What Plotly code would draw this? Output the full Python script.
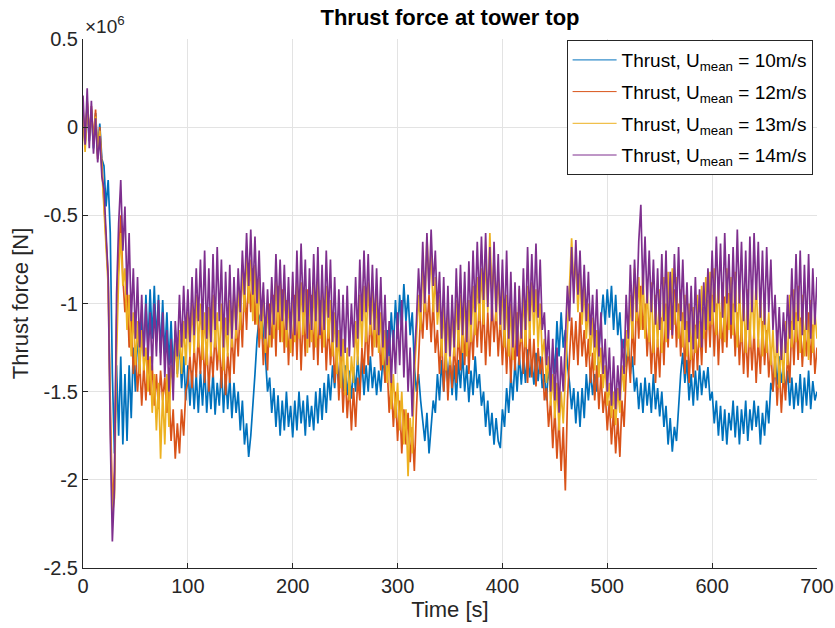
import numpy as np
import plotly.graph_objects as go

# Sample times [s], 2 s spacing
time_s = np.arange(0, 702, 2)

# Thrust force at tower top, in units of 1e6 N
thrust_10 = [
    0.05, -0.10, 0.12, -0.08, 0.10, -0.12, 0.08, -0.15, 0.02, -0.18,
    -0.22, -0.45, -0.30, -0.60, -1.40, -1.85, -1.35, -1.75, -1.30, -1.80,
    -1.40, -1.78, -1.35, -1.65, -1.25, -1.50, -1.15, -1.40, -1.05, -1.30,
    -0.95, -1.25, -0.92, -1.20, -0.90, -1.22, -0.95, -1.28, -0.98, -1.30,
    -1.05, -1.35, -1.10, -1.38, -1.15, -1.40, -1.20, -1.48, -1.30, -1.55,
    -1.35, -1.58, -1.38, -1.60, -1.40, -1.62, -1.38, -1.58, -1.36, -1.62,
    -1.42, -1.60, -1.38, -1.63, -1.45, -1.58, -1.36, -1.62, -1.40, -1.60,
    -1.42, -1.65, -1.45, -1.62, -1.50, -1.72, -1.55, -1.80, -1.68, -1.87,
    -1.75, -1.60, -1.40, -1.20, -1.08, -1.05, -1.15, -1.30, -1.50, -1.42,
    -1.62, -1.48, -1.70, -1.52, -1.75, -1.55, -1.72, -1.50, -1.70, -1.58,
    -1.76, -1.55, -1.72, -1.50, -1.68, -1.55, -1.75, -1.52, -1.70, -1.58,
    -1.72, -1.50, -1.68, -1.48, -1.66, -1.45, -1.62, -1.40, -1.55, -1.35,
    -1.48, -1.30, -1.45, -1.32, -1.50, -1.35, -1.52, -1.38, -1.54, -1.36,
    -1.50, -1.30, -1.48, -1.32, -1.52, -1.35, -1.50, -1.30, -1.48, -1.36,
    -1.52, -1.38, -1.50, -1.30, -1.42, -1.15, -1.30, -1.05, -1.25, -0.98,
    -1.20, -0.95, -1.15, -0.89, -1.10, -0.95, -1.18, -1.05, -1.35, -1.50,
    -1.40, -1.55, -1.65, -1.78, -1.62, -1.85, -1.70, -1.55, -1.62, -1.40,
    -1.55, -1.32, -1.50, -1.28, -1.45, -1.30, -1.52, -1.35, -1.55, -1.32,
    -1.48, -1.28, -1.50, -1.35, -1.56, -1.38, -1.52, -1.30, -1.48, -1.40,
    -1.58, -1.50, -1.70, -1.55, -1.75, -1.62, -1.80, -1.65, -1.78, -1.82,
    -1.60, -1.70, -1.48, -1.62, -1.40, -1.55, -1.32, -1.50, -1.28, -1.46,
    -1.30, -1.45, -1.26, -1.42, -1.32, -1.46, -1.28, -1.44, -1.30, -1.48,
    -1.40, -1.55, -1.35, -1.50, -1.25, -1.40, -1.10, -1.30, -1.05, -1.25,
    -1.15, -1.35, -1.45, -1.60, -1.48, -1.68, -1.50, -1.70, -1.48, -1.65,
    -1.40, -1.55, -1.38, -1.52, -1.40, -1.50, -1.25, -1.10, -0.95, -1.12,
    -0.92, -1.08, -0.90, -1.15, -0.95, -1.18, -1.05, -1.30, -1.20, -1.36,
    -1.22, -1.40, -1.30, -1.50, -1.42, -1.60, -1.45, -1.62, -1.42, -1.58,
    -1.45, -1.62, -1.40, -1.60, -1.48, -1.64, -1.50, -1.70, -1.58, -1.80,
    -1.65, -1.84, -1.70, -1.78, -1.55, -1.40, -1.28, -1.45, -1.32, -1.55,
    -1.40, -1.58, -1.38, -1.55, -1.35, -1.52, -1.38, -1.48, -1.36, -1.55,
    -1.50, -1.68, -1.55, -1.75, -1.58, -1.78, -1.60, -1.80, -1.62, -1.72,
    -1.55, -1.76, -1.58, -1.80, -1.60, -1.74, -1.55, -1.78, -1.60, -1.72,
    -1.55, -1.70, -1.58, -1.80, -1.62, -1.75, -1.55, -1.68, -1.45, -1.50,
    -1.32, -1.46, -1.30, -1.45, -1.36, -1.50, -1.38, -1.58, -1.42, -1.60,
    -1.45, -1.58, -1.40, -1.62, -1.42, -1.58, -1.38, -1.60, -1.44, -1.55,
    -1.50,
]

thrust_12 = [
    0.10, -0.12, 0.15, -0.05, 0.12, -0.08, 0.10, -0.18, 0.00, -0.22,
    -0.42, -0.70, -0.85, -1.55, -2.15, -1.95, -1.10, -0.75, -0.50, -0.85,
    -1.05, -0.90, -1.25, -1.05, -1.40, -1.25, -1.50, -1.32, -1.58, -1.35,
    -1.55, -1.30, -1.52, -1.35, -1.58, -1.40, -1.60, -1.38, -1.55, -1.42,
    -1.62, -1.50, -1.78, -1.60, -1.88, -1.68, -1.85, -1.60, -1.75, -1.50,
    -1.45, -1.30, -1.48, -1.25, -1.42, -1.18, -1.40, -1.15, -1.45, -1.22,
    -1.50, -1.25, -1.42, -1.15, -1.38, -1.20, -1.48, -1.22, -1.52, -1.28,
    -1.45, -1.15, -1.40, -1.10, -1.30, -1.00, -1.25, -0.88, -1.15, -0.82,
    -1.05, -0.80, -1.12, -0.90, -1.25, -1.05, -1.35, -1.10, -1.38, -1.00,
    -1.25, -0.95, -1.30, -0.90, -1.22, -0.92, -1.28, -0.98, -1.35, -1.05,
    -1.30, -0.95, -1.32, -1.00, -1.38, -1.05, -1.30, -0.92, -1.25, -0.95,
    -1.32, -1.00, -1.35, -0.98, -1.28, -1.02, -1.38, -1.10, -1.35, -1.15,
    -1.45, -1.25, -1.55, -1.30, -1.62, -1.38, -1.65, -1.45, -1.72, -1.48,
    -1.70, -1.42, -1.55, -1.25, -1.40, -1.10, -1.35, -1.05, -1.30, -1.00,
    -1.25, -1.12, -1.38, -1.20, -1.45, -1.35, -1.62, -1.45, -1.70, -1.50,
    -1.78, -1.55, -1.85, -1.60, -1.80, -1.62, -1.90, -1.70, -1.95, -1.60,
    -1.30, -1.05, -1.20, -0.92, -1.15, -0.95, -1.22, -0.98, -1.28, -1.15,
    -1.40, -1.18, -1.50, -1.25, -1.55, -1.30, -1.48, -1.22, -1.45, -1.15,
    -1.38, -1.08, -1.35, -1.05, -1.40, -1.12, -1.32, -1.02, -1.25, -0.98,
    -1.28, -1.00, -1.35, -1.05, -1.30, -0.98, -1.22, -1.02, -1.30, -1.08,
    -1.35, -1.10, -1.40, -1.12, -1.45, -1.15, -1.38, -1.05, -1.35, -1.10,
    -1.40, -1.12, -1.45, -1.15, -1.42, -1.20, -1.47, -1.25, -1.40, -1.30,
    -1.55, -1.48, -1.70, -1.55, -1.82, -1.60, -1.88, -1.65, -1.95, -1.70,
    -2.06, -1.55, -1.30, -1.08, -1.32, -1.10, -1.35, -1.05, -1.30, -1.15,
    -1.36, -1.20, -1.45, -1.28, -1.55, -1.35, -1.60, -1.40, -1.62, -1.50,
    -1.72, -1.55, -1.80, -1.60, -1.85, -1.65, -1.87, -1.55, -1.70, -1.40,
    -1.25, -1.45, -1.10, -1.35, -0.95, -1.20, -0.90, -1.15, -1.00, -1.30,
    -1.10, -1.40, -1.15, -1.45, -1.20, -1.42, -1.08, -1.35, -1.00, -1.25,
    -0.95, -1.20, -0.92, -1.25, -1.00, -1.30, -1.05, -1.40, -1.10, -1.45,
    -1.20, -1.42, -1.12, -1.38, -1.10, -1.35, -1.02, -1.28, -0.98, -1.25,
    -0.95, -1.30, -1.00, -1.35, -1.05, -1.28, -0.96, -1.25, -0.94, -1.20,
    -1.00, -1.30, -1.05, -1.35, -1.10, -1.40, -1.15, -1.42, -1.12, -1.38,
    -1.15, -1.45, -1.20, -1.40, -1.10, -1.35, -1.15, -1.42, -1.25, -1.50,
    -1.30, -1.58, -1.35, -1.62, -1.40, -1.55, -1.28, -1.45, -1.10, -1.35,
    -1.05, -1.32, -1.08, -1.36, -1.15, -1.30, -1.05, -1.35, -1.12, -1.40,
    -1.25,
]

thrust_13 = [
    0.08, -0.14, 0.14, -0.06, 0.10, -0.10, 0.06, -0.16, -0.02, -0.25,
    -0.45, -0.75, -0.90, -1.65, -2.20, -2.10, -1.30, -0.85, -0.60, -0.90,
    -0.80, -1.15, -0.95, -1.30, -1.05, -1.35, -1.10, -1.40, -1.15, -1.38,
    -1.25, -1.50, -1.30, -1.62, -1.40, -1.72, -1.45, -1.88, -1.50, -1.80,
    -1.40, -1.70, -1.35, -1.45, -1.20, -1.42, -1.15, -1.40, -1.10, -1.35,
    -1.05, -1.30, -1.00, -1.28, -0.95, -1.25, -1.00, -1.32, -1.05, -1.35,
    -1.02, -1.30, -0.95, -1.25, -1.05, -1.32, -1.00, -1.38, -1.08, -1.30,
    -0.98, -1.25, -0.92, -1.20, -0.90, -1.15, -0.80, -1.05, -0.70, -1.00,
    -0.75, -1.10, -0.78, -1.12, -0.85, -1.20, -0.95, -1.28, -1.00, -1.25,
    -0.92, -1.20, -0.85, -1.15, -0.88, -1.22, -0.90, -1.25, -0.95, -1.28,
    -0.90, -1.22, -0.85, -1.20, -0.88, -1.18, -0.92, -1.28, -0.95, -1.22,
    -0.88, -1.25, -0.85, -1.20, -0.92, -1.25, -0.90, -1.20, -0.98, -1.30,
    -1.05, -1.40, -1.15, -1.48, -1.20, -1.52, -1.25, -1.55, -1.30, -1.45,
    -1.10, -1.35, -0.95, -1.25, -0.90, -1.22, -0.88, -1.18, -0.92, -1.25,
    -0.95, -1.28, -1.05, -1.35, -1.15, -1.45, -1.30, -1.60, -1.40, -1.65,
    -1.45, -1.72, -1.50, -1.80, -1.60, -1.98, -1.65, -1.85, -1.40, -1.20,
    -0.95, -1.15, -0.75, -1.05, -0.62, -0.90, -0.70, -1.05, -0.85, -1.12,
    -0.95, -1.30, -1.00, -1.38, -1.05, -1.35, -1.02, -1.30, -0.98, -1.25,
    -0.95, -1.28, -0.92, -1.30, -0.98, -1.22, -0.90, -1.18, -0.85, -1.10,
    -0.80, -1.12, -0.72, -1.05, -0.60, -0.95, -0.75, -1.10, -0.82, -1.15,
    -0.90, -1.25, -0.95, -1.30, -1.00, -1.32, -0.98, -1.28, -0.92, -1.22,
    -0.95, -1.25, -0.90, -1.20, -0.88, -1.18, -0.92, -1.25, -1.00, -1.30,
    -1.20, -1.45, -1.30, -1.58, -1.40, -1.65, -1.45, -1.72, -1.50, -1.68,
    -1.40, -1.10, -0.85, -0.63, -0.90, -0.75, -1.05, -0.82, -1.12, -0.90,
    -1.20, -1.00, -1.30, -1.08, -1.38, -1.15, -1.42, -1.25, -1.48, -1.35,
    -1.58, -1.45, -1.65, -1.50, -1.69, -1.48, -1.62, -1.35, -1.50, -1.15,
    -1.30, -0.95, -1.20, -0.80, -1.10, -0.85, -1.15, -0.80, -1.20, -0.90,
    -1.22, -0.88, -1.28, -0.95, -1.25, -0.92, -1.28, -0.85, -1.22, -0.82,
    -1.15, -0.80, -1.12, -0.85, -1.20, -0.92, -1.25, -0.95, -1.30, -1.00,
    -1.32, -1.02, -1.28, -0.95, -1.25, -0.90, -1.20, -0.85, -1.15, -0.82,
    -1.12, -0.80, -1.18, -0.85, -1.20, -0.88, -1.22, -0.80, -1.15, -0.85,
    -1.18, -0.82, -1.25, -0.90, -1.22, -0.95, -1.28, -0.92, -1.25, -0.88,
    -1.20, -0.85, -1.25, -0.92, -1.30, -1.00, -1.28, -1.05, -1.35, -1.15,
    -1.42, -1.15, -1.48, -1.20, -1.45, -1.10, -1.35, -0.95, -1.25, -0.92,
    -1.22, -0.90, -1.28, -0.95, -1.30, -1.00, -1.32, -0.98, -1.28, -1.05,
    -1.20,
]

thrust_14 = [
    0.18, -0.10, 0.22, -0.12, 0.15, -0.15, 0.05, -0.20, -0.05, -0.28,
    -0.35, -0.60, -0.85, -1.75, -2.35, -2.05, -0.95, -0.55, -0.30, -0.70,
    -0.45, -0.95, -0.60, -1.10, -0.80, -1.20, -0.85, -1.25, -0.95, -1.30,
    -1.00, -1.32, -1.05, -1.38, -1.00, -1.30, -0.98, -1.35, -1.05, -1.42,
    -1.15, -1.50, -1.20, -1.55, -1.10, -1.30, -0.95, -1.25, -0.90, -1.20,
    -0.92, -1.22, -0.85, -1.18, -0.80, -1.10, -0.75, -1.15, -0.70, -1.20,
    -0.80, -1.22, -0.72, -1.15, -0.68, -1.10, -0.75, -1.25, -0.82, -1.18,
    -0.78, -1.20, -0.85, -1.15, -0.80, -1.05, -0.70, -0.95, -0.60, -0.90,
    -0.58, -0.95, -0.62, -1.00, -0.70, -1.10, -0.88, -1.20, -0.92, -1.18,
    -0.85, -1.12, -0.72, -1.05, -0.75, -1.10, -0.78, -1.15, -0.85, -1.20,
    -0.82, -1.18, -0.70, -1.10, -0.66, -1.05, -0.75, -1.20, -0.80, -1.15,
    -0.72, -1.10, -0.68, -1.18, -0.78, -1.15, -0.70, -1.08, -0.75, -1.22,
    -0.85, -1.25, -0.92, -1.30, -0.95, -1.28, -0.90, -1.30, -1.00, -1.25,
    -0.85, -1.20, -0.75, -1.10, -0.70, -1.05, -0.72, -1.12, -0.78, -1.15,
    -0.80, -1.18, -0.85, -1.25, -0.95, -1.35, -1.10, -1.45, -1.15, -1.40,
    -1.05, -1.35, -0.98, -1.42, -1.10, -1.50, -1.25, -1.64, -1.30, -1.10,
    -0.80, -1.05, -0.65, -1.00, -0.60, -0.95, -0.58, -0.90, -0.70, -1.05,
    -0.82, -1.20, -0.85, -1.28, -0.90, -1.30, -0.95, -1.25, -0.80, -1.15,
    -0.78, -1.18, -0.82, -1.22, -0.76, -1.12, -0.70, -1.05, -0.65, -1.00,
    -0.62, -0.98, -0.60, -1.02, -0.68, -1.10, -0.65, -1.05, -0.72, -1.12,
    -0.75, -1.15, -0.70, -1.20, -0.82, -1.25, -0.88, -1.30, -0.90, -1.20,
    -0.80, -1.15, -0.68, -1.10, -0.72, -1.05, -0.66, -1.08, -0.75, -1.15,
    -1.05, -1.35, -1.15, -1.50, -1.20, -1.55, -1.25, -1.62, -1.30, -1.50,
    -1.15, -0.90, -1.10, -0.68, -1.00, -0.64, -0.95, -0.70, -1.05, -0.78,
    -1.10, -0.82, -1.18, -0.95, -1.25, -0.92, -1.30, -1.05, -1.40, -1.20,
    -1.50, -1.25, -1.58, -1.30, -1.60, -1.35, -1.55, -1.20, -1.40, -0.95,
    -1.20, -0.78, -1.10, -0.75, -1.05, -0.65, -0.44, -0.95, -0.62, -1.00,
    -0.70, -1.05, -0.75, -1.12, -0.80, -1.15, -0.72, -1.10, -0.70, -1.20,
    -0.82, -1.18, -0.72, -1.05, -0.68, -1.10, -0.75, -1.15, -0.88, -1.22,
    -0.90, -1.26, -0.85, -1.20, -0.92, -1.25, -0.88, -1.15, -0.80, -1.10,
    -0.70, -1.05, -0.62, -1.00, -0.66, -1.08, -0.60, -1.00, -0.72, -1.12,
    -0.68, -1.05, -0.58, -1.00, -0.65, -1.10, -0.70, -1.15, -0.62, -1.05,
    -0.60, -0.98, -0.65, -1.08, -0.70, -1.12, -0.68, -1.05, -0.75, -1.15,
    -0.95, -1.28, -1.02, -1.32, -1.05, -1.28, -0.95, -1.20, -0.80, -1.15,
    -0.72, -1.10, -0.70, -1.18, -0.78, -1.15, -0.72, -1.20, -0.80, -1.12,
    -0.85,
]

series_names = [
    "Thrust, U<sub>mean</sub> = 10m/s",
    "Thrust, U<sub>mean</sub> = 12m/s",
    "Thrust, U<sub>mean</sub> = 13m/s",
    "Thrust, U<sub>mean</sub> = 14m/s",
]
series_values = [thrust_10, thrust_12, thrust_13, thrust_14]
series_colors = ["#0072BD", "#D95319", "#EDB120", "#7E2F8E"]

x_ticks = [0, 100, 200, 300, 400, 500, 600, 700]
y_ticks = [0.5, 0, -0.5, -1, -1.5, -2, -2.5]
y_tick_labels = ["0.5", "0", "-0.5", "-1", "-1.5", "-2", "-2.5"]

for vals in series_values:
    assert len(vals) == len(time_s), len(vals)

fig = go.Figure()
for i, (name, vals, color) in enumerate(zip(series_names, series_values, series_colors)):
    # data curve (drawn thicker so the dense signal reads as a band)
    fig.add_trace(go.Scatter(
        x=time_s, y=vals, mode="lines", name=name,
        legendgroup=f"g{i}", showlegend=False,
        line=dict(color=color, width=1.7),
    ))
    # legend entry with a thin line sample
    fig.add_trace(go.Scatter(
        x=[None], y=[None], mode="lines", name=name,
        legendgroup=f"g{i}", showlegend=True,
        line=dict(color=color, width=1),
    ))

axis_color = "#262626"
grid_color = "#e3e3e3"
font_family = "Liberation Sans, Arial, Helvetica, sans-serif"

fig.update_layout(
    width=835, height=628,
    margin=dict(l=83, r=18, t=39, b=60, autoexpand=False),
    paper_bgcolor="white", plot_bgcolor="white",
    font=dict(family=font_family, size=20, color=axis_color),
    title=dict(
        text="<b>Thrust force at tower top</b>",
        x=0.5, xanchor="center", xref="paper",
        y=0.972, yanchor="middle", yref="container",
        font=dict(size=22, color="#000000"),
    ),
    showlegend=True,
    legend=dict(
        x=0.994, y=0.998, xanchor="right", yanchor="top",
        bgcolor="white", bordercolor="#262626", borderwidth=1,
        font=dict(size=19, color="#000000"),
        tracegroupgap=4, itemwidth=44,
    ),
)

fig.update_xaxes(
    range=[0, 700], tickvals=x_ticks,
    showgrid=True, gridcolor=grid_color, gridwidth=1,
    showline=True, linecolor=axis_color, linewidth=1,
    ticks="inside", ticklen=5, tickcolor=axis_color,
    zeroline=False, automargin=False,
    tickfont=dict(size=20),
    title=dict(text="Time [s]", font=dict(size=22), standoff=2),
)
fig.update_yaxes(
    range=[-2.5, 0.5], tickvals=y_ticks, ticktext=y_tick_labels,
    showgrid=True, gridcolor=grid_color, gridwidth=1,
    showline=True, linecolor=axis_color, linewidth=1,
    ticks="inside", ticklen=5, tickcolor=axis_color,
    zeroline=False, automargin=False,
    tickfont=dict(size=20),
    title=dict(text="Thrust force [N]", font=dict(size=22), standoff=8),
)

# Axis exponent label
fig.add_annotation(
    text="\u00d710<sup>6</sup>", xref="paper", yref="paper",
    x=0.0, y=1.0, xanchor="left", yanchor="bottom",
    showarrow=False, font=dict(size=19, color=axis_color),
)

fig.write_html("out.html")
